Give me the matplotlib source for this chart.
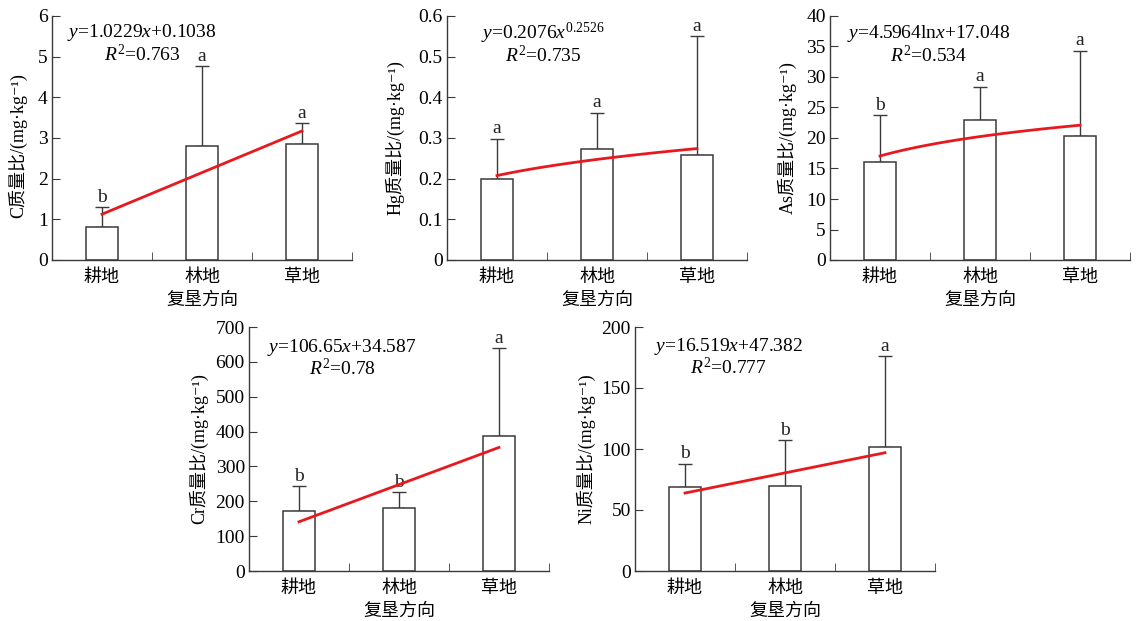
import numpy as np
import matplotlib
matplotlib.use('Agg')
import matplotlib.pyplot as plt
from matplotlib.ticker import FixedLocator

plt.rcParams['font.family'] = ['Liberation Serif', 'DejaVu Serif', 'Noto Sans CJK SC']
plt.rcParams['mathtext.fontset'] = 'custom'
plt.rcParams['mathtext.rm'] = 'Liberation Serif'
plt.rcParams['mathtext.it'] = 'Liberation Serif:italic'

cats = ['耕地', '林地', '草地']

c_mean = [0.80, 2.80, 2.85]
c_err = [0.50, 1.97, 0.52]
c_sig = ['b', 'a', 'a']

hg_mean = [0.200, 0.272, 0.257]
hg_err = [0.098, 0.090, 0.293]
hg_sig = ['a', 'a', 'a']

as_mean = [16.0, 23.0, 20.4]
as_err = [7.7, 5.4, 13.9]
as_sig = ['b', 'a', 'a']

cr_mean = [173, 182, 387]
cr_err = [70, 44, 253]
cr_sig = ['b', 'b', 'a']

ni_mean = [69, 70, 102]
ni_err = [19, 37, 74]
ni_sig = ['b', 'b', 'a']

# fit equations (x = 1,2,3)
def fit_c(x): return 1.0229 * x + 0.1038
def fit_hg(x): return 0.2076 * x ** 0.2526
def fit_as(x): return 4.5964 * np.log(x) + 17.048
def fit_cr(x): return 106.65 * x + 34.587
def fit_ni(x): return 16.519 * x + 47.382

panels = [
    dict(name='C', mean=c_mean, err=c_err, sig=c_sig, fit=fit_c,
         eq=r'$y$=1.0229$x$+0.1038', r2=r'$R^2$=0.763', ymax=6, step=1,
         rect=[52, 16], tx=0.30, ty=(0.934, 0.844), lab=(-0.083, 0.47)),
    dict(name='Hg', mean=hg_mean, err=hg_err, sig=hg_sig, fit=fit_hg,
         eq=r'$y$=0.2076$x^{0.2526}$', r2=r'$R^2$=0.735', ymax=0.6, step=0.1,
         rect=[447, 16], tx=0.32, ty=(0.93, 0.84), lab=(-0.14, 0.5)),
    dict(name='As', mean=as_mean, err=as_err, sig=as_sig, fit=fit_as,
         eq=r'$y$=4.5964ln$x$+17.048', r2=r'$R^2$=0.534', ymax=40, step=5,
         rect=[830, 16], tx=0.33, ty=(0.93, 0.84), lab=(-0.11, 0.5)),
    dict(name='Cr', mean=cr_mean, err=cr_err, sig=cr_sig, fit=fit_cr,
         eq=r'$y$=106.65$x$+34.587', r2=r'$R^2$=0.78', ymax=700, step=100,
         rect=[249, 327], tx=0.31, ty=(0.918, 0.828), lab=(-0.137, 0.5)),
    dict(name='Ni', mean=ni_mean, err=ni_err, sig=ni_sig, fit=fit_ni,
         eq=r'$y$=16.519$x$+47.382', r2=r'$R^2$=0.777', ymax=200, step=50,
         rect=[635, 327], tx=0.313, ty=(0.922, 0.832), lab=(-0.133, 0.5)),
]

W, H = 1136, 621
fig = plt.figure(figsize=(W / 100, H / 100), dpi=100)
fig.patch.set_facecolor('white')
ec = '#3a3a3a'

for p in panels:
    left, top = p['rect']
    ax = fig.add_axes([left / W, (H - top - 244) / H, 300 / W, 244 / H])
    x = np.arange(1, 4)
    ax.bar(x, p['mean'], width=0.32, color='white', edgecolor=ec, linewidth=1.1, zorder=2)
    ax.errorbar(x, p['mean'], yerr=[np.zeros(3), p['err']], fmt='none',
                ecolor=ec, elinewidth=1.0, capsize=5, capthick=1.0, zorder=1)
    for xi, m, e, s in zip(x, p['mean'], p['err'], p['sig']):
        ax.annotate(s, (xi, m + e), xytext=(0, 1), textcoords='offset points',
                    ha='center', va='bottom', fontsize=14, color='#222222')
    xf = np.linspace(1, 3, 60)
    ax.plot(xf, p['fit'](xf), color='#e8191e', linewidth=2, zorder=3)

    ax.set_xlim(0.5, 3.5)
    ax.set_ylim(0, p['ymax'])
    yt = np.arange(0, p['ymax'] + p['step'] / 2, p['step'])
    ax.set_yticks(yt)
    ax.set_yticklabels([f'{v:g}' for v in yt], fontsize=14)
    ax.set_xticks(x)
    ax.set_xticklabels(cats, fontsize=13, family=['Noto Sans CJK SC'])
    ax.xaxis.set_minor_locator(FixedLocator([1.5, 2.5, 3.5]))
    ax.tick_params(axis='x', which='major', length=0, pad=6)
    ax.tick_params(axis='x', which='minor', direction='in', length=6, color=ec)
    ax.tick_params(axis='y', direction='in', length=6, color=ec, pad=3)
    for sp in ['top', 'right']:
        ax.spines[sp].set_visible(False)
    for sp in ['left', 'bottom']:
        ax.spines[sp].set_color(ec)
        ax.spines[sp].set_linewidth(1.0)
    ax.set_xlabel('复垦方向', fontsize=13, family=['Noto Sans CJK SC'], labelpad=3)
    ax.set_ylabel(p['name'] + '质量比/(mg·kg⁻¹)', fontsize=13,
                  family=['Liberation Serif', 'DejaVu Serif', 'Noto Sans CJK SC'])
    ax.yaxis.set_label_coords(*p['lab'])
    ax.text(p['tx'], p['ty'][0], p['eq'], transform=ax.transAxes,
            ha='center', va='center', fontsize=14)
    ax.text(p['tx'], p['ty'][1], p['r2'], transform=ax.transAxes,
            ha='center', va='center', fontsize=14)

fig.savefig('out.png', dpi=100)
